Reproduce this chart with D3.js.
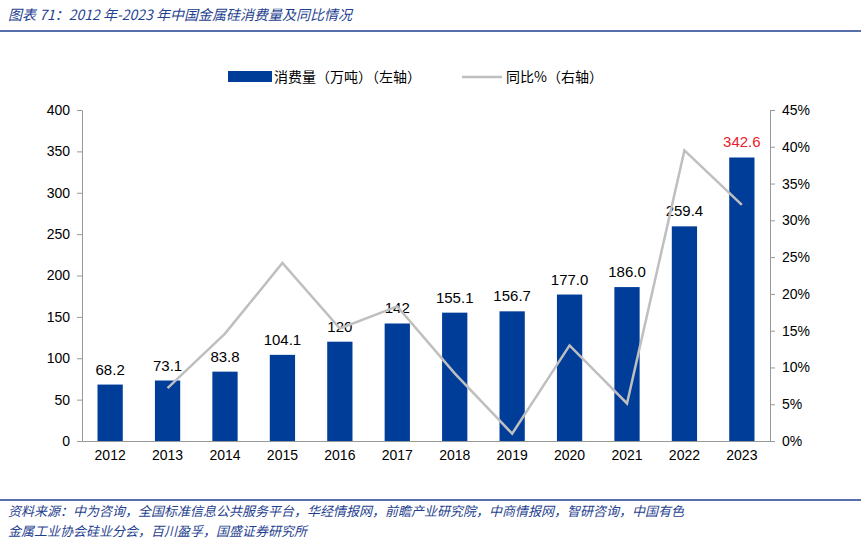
<!DOCTYPE html>
<html><head><meta charset="utf-8">
<script src="https://cdn.jsdelivr.net/npm/d3@7"></script>
<style>body{margin:0;background:#fff}svg{display:block}</style>
</head><body><svg id="c" width="861" height="553"></svg>
<script>
const years=["2012","2013","2014","2015","2016","2017","2018","2019","2020","2021","2022","2023"];
const consumption=[68.2,73.1,83.8,104.1,120,142,155.1,156.7,177.0,186.0,259.4,342.6];
const labels=["68.2","73.1","83.8","104.1","120","142","155.1","156.7","177.0","186.0","259.4","342.6"];
const yoy=[null,7.2,14.6,24.2,15.3,18.3,9.2,1.0,13.0,5.1,39.5,32.1];
const leftTicks=[0,50,100,150,200,250,300,350,400];
const rightTicks=[0,5,10,15,20,25,30,35,40,45];

const svg=d3.select("#c");
const font="'Noto Sans CJK SC','Noto Sans',sans-serif";
const L=82,R=770,T=110,B=441;
const x=d3.scaleBand().domain(years).range([L,R]).paddingInner(0.56).paddingOuter(0.27);
const y=d3.scaleLinear().domain([0,400]).range([B,T]);
const y2=d3.scaleLinear().domain([0,45]).range([B,T]);

svg.append("text").attr("x",8).attr("y",20).attr("font-family",font).attr("font-style","italic")
 .attr("font-size",14).attr("fill","#1f3f8f").text("图表 71：2012 年-2023 年中国金属硅消费量及同比情况");
svg.append("line").attr("x1",0).attr("x2",861).attr("y1",31).attr("y2",31).attr("stroke","#1f3f8f").attr("stroke-width",1.5);
svg.append("line").attr("x1",0).attr("x2",861).attr("y1",500).attr("y2",500).attr("stroke","#1f3f8f").attr("stroke-width",1.5);
svg.append("text").attr("x",8).attr("y",516).attr("font-family",font).attr("font-style","italic").attr("font-size",13).attr("fill","#1f3f8f")
 .text("资料来源：中为咨询，全国标准信息公共服务平台，华经情报网，前瞻产业研究院，中商情报网，智研咨询，中国有色");
svg.append("text").attr("x",8).attr("y",536).attr("font-family",font).attr("font-style","italic").attr("font-size",13).attr("fill","#1f3f8f")
 .text("金属工业协会硅业分会，百川盈孚，国盛证券研究所");

const ax=svg.append("g").attr("transform",`translate(${L},0)`).call(d3.axisLeft(y).tickValues(leftTicks).tickSize(5).tickSizeOuter(0));
const ax2=svg.append("g").attr("transform",`translate(${R},0)`).call(d3.axisRight(y2).tickValues(rightTicks).tickFormat(d=>d+"%").tickSize(5).tickSizeOuter(0));
const axb=svg.append("g").attr("transform",`translate(0,${B})`).call(d3.axisBottom(x).tickSize(0));
[ax,ax2,axb].forEach(a=>{a.selectAll("path,line").attr("stroke","#999");a.selectAll("text").attr("font-family","'Liberation Sans',Arial,sans-serif").attr("font-size",14).attr("fill","#000");});
ax.selectAll("text").attr("dx",-4);ax2.selectAll("text").attr("dx",4);
axb.selectAll("text").attr("dy",16);

svg.selectAll(".bar").data(consumption).enter().append("rect")
 .attr("x",(d,i)=>x(years[i])).attr("width",x.bandwidth()).attr("y",d=>y(d)).attr("height",d=>B-y(d)).attr("fill","#003d99");
svg.selectAll(".lab").data(consumption).enter().append("text")
 .attr("x",(d,i)=>x(years[i])+x.bandwidth()/2).attr("y",d=>y(d)-10).attr("text-anchor","middle")
 .attr("font-family","'Liberation Sans',Arial,sans-serif").attr("font-size",15)
 .attr("fill",(d,i)=>i===years.length-1?"#e8202a":"#000").text((d,i)=>labels[i]);

const line=d3.line().defined(d=>d!=null).x((d,i)=>x(years[i])+x.bandwidth()/2).y(d=>y2(d));
svg.append("path").datum(yoy).attr("d",line).attr("fill","none").attr("stroke","#bfbfbf").attr("stroke-width",2.5);

const lg=svg.append("g").attr("font-family",font).attr("font-size",14);
lg.append("rect").attr("x",228).attr("y",71).attr("width",44).attr("height",11).attr("fill","#003d99");
lg.append("text").attr("x",274).attr("y",82).text("消费量（万吨）（左轴）");
lg.append("line").attr("x1",462).attr("x2",502).attr("y1",77).attr("y2",77).attr("stroke","#bfbfbf").attr("stroke-width",2.5);
lg.append("text").attr("x",506).attr("y",82).text("同比%（右轴）");
</script></body></html>
